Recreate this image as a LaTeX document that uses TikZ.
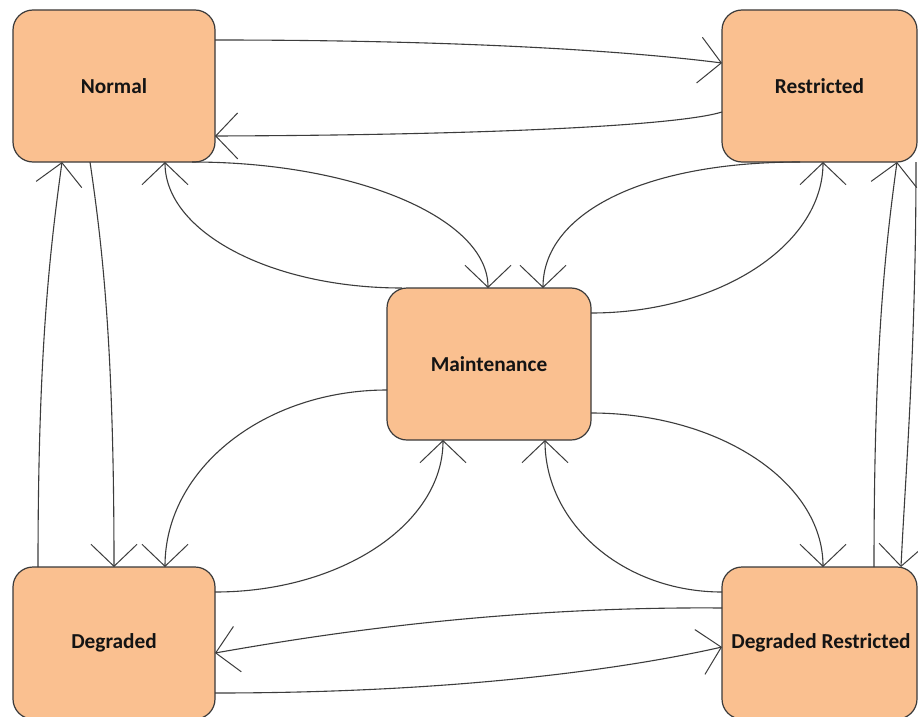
\documentclass[tikz,border=0pt]{standalone}
\usepackage{fontspec}
\setmainfont{Carlito}
\usetikzlibrary{arrows.meta,calc}
\definecolor{statefill}{HTML}{FAC090}
\definecolor{stateline}{HTML}{3A3A3A}
\definecolor{wire}{HTML}{3C3C3C}
\begin{document}
\begin{tikzpicture}[x=1pt,y=-1pt,
  state/.style={draw=stateline, line width=1.2pt, fill=statefill,
    rounded corners=20pt, inner sep=0pt, outer sep=0pt,
    minimum width=202pt, minimum height=152pt,
    font=\fontsize{21.3}{25}\selectfont\bfseries, text=black!92},
  link/.style={draw=wire, line width=1.1pt,
    -{Straight Barb[length=22pt,width=46pt,line width=1pt]}}]
\useasboundingbox (0,0) rectangle (918,717);
\fill[white] (0,0) rectangle (918,717);

% states
\node[state] (N)  at (114,86)    {Normal};
\node[state, minimum width=195pt] (R)  at (819.5,86)  {Restricted};
\node[state, minimum width=204pt] (M)  at (489,364)   {Maintenance};
\node[state] (D)  at (114,643)   {Degraded};
\node[state, minimum width=195pt] (DR) at (819.5,643) {\hspace*{3pt}Degraded Restricted};

% Normal <-> Restricted
\draw[link] ($(N.north east)+(0,30)$) .. controls (450,40) and (620,50) .. ($(R.north west)+(0,53)$);
\draw[link] ($(R.north west)+(0,102)$) .. controls (680,125) and (500,135) .. ($(N.north east)+(0,126)$);

% Normal <-> Maintenance
\draw[link] ($(N.south east)+(-23,0)$) .. controls (355,162) and (488,218) .. ($(M.north west)+(101,0)$);
\draw[link] ($(M.north west)+(15,0)$) .. controls (271,288) and (165,232) .. ($(N.south west)+(152,0)$);

% Restricted <-> Maintenance
\draw[link] ($(R.south west)+(78,0)$) .. controls (640,162) and (543,215) .. ($(M.north west)+(156,0)$);
\draw[link] ($(M.north east)+(0,25)$) .. controls (719,313) and (823,245) .. ($(R.south west)+(101,0)$);

% Normal <-> Degraded
\draw[link] ($(D.north west)+(25,0)$) .. controls (38,350) and (50,250) .. ($(N.south west)+(49,0)$);
\draw[link] ($(N.south west)+(77,0)$) .. controls (103,250) and (114,350) .. ($(D.north west)+(101,0)$);

% Restricted <-> Degraded Restricted
\draw[link] ($(R.south east)+(-1,0)$) .. controls (916,352) and (905,480) .. ($(DR.north west)+(179,0)$);
\draw[link] ($(DR.north west)+(152,0)$) .. controls (874,350) and (885,250) .. ($(R.south west)+(175,0)$);

% Maintenance <-> Degraded
\draw[link] ($(M.north west)+(0,102)$) .. controls (264,390) and (165,469) .. ($(D.north west)+(152,0)$);
\draw[link] ($(D.north east)+(0,25)$) .. controls (341,592) and (443,524) .. ($(M.south west)+(56,0)$);

% Maintenance <-> Degraded Restricted
\draw[link] ($(M.north east)+(0,125)$) .. controls (719,413) and (823,482) .. ($(DR.north west)+(101,0)$);
\draw[link] ($(DR.north west)+(0,25)$) .. controls (624,592) and (545,524) .. ($(M.south west)+(158,0)$);

% Degraded <-> Degraded Restricted
\draw[link] ($(DR.north west)+(0,41)$) .. controls (482,606) and (290,640) .. ($(D.north east)+(0,86)$);
\draw[link] ($(D.north east)+(0,126)$) .. controls (450,693) and (620,670) .. ($(DR.north west)+(0,80)$);
\end{tikzpicture}
\end{document}
